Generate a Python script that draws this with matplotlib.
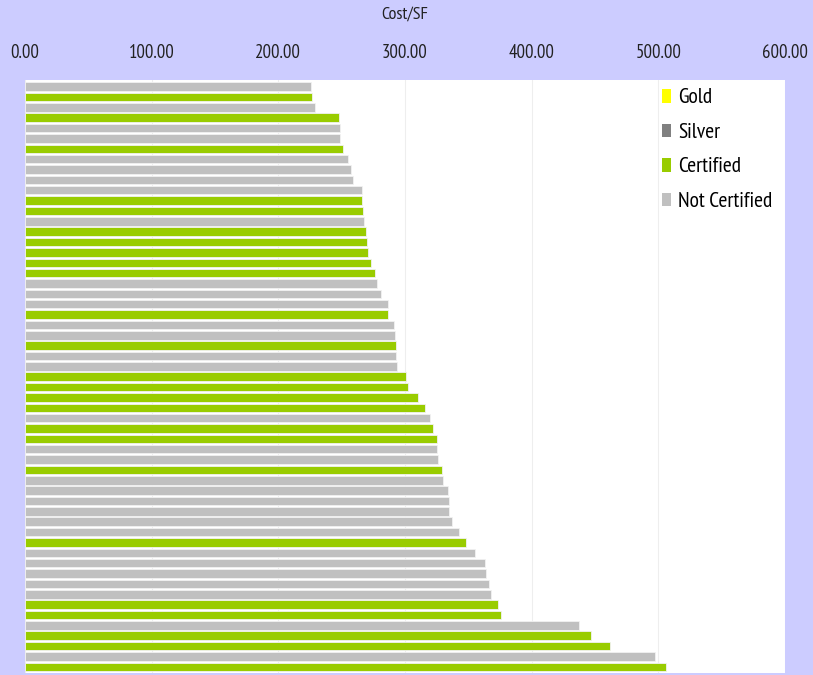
import matplotlib.pyplot as plt
from matplotlib.patches import Patch
import numpy as np

# Cost per square foot, one bar per project (top to bottom)
cost_sf = [225.5, 226.3, 229.0, 247.6, 248.4, 248.7, 250.8, 255.3, 257.1, 259.2,
           265.8, 266.1, 266.8, 267.6, 269.0, 269.7, 270.5, 273.2, 276.6, 278.2,
           281.1, 286.6, 286.9, 291.3, 292.1, 292.6, 293.1, 293.4, 300.5, 302.4,
           310.3, 316.1, 319.5, 322.1, 325.3, 325.5, 325.8, 328.9, 329.7, 333.9,
           334.7, 334.7, 337.4, 342.6, 348.4, 355.2, 363.0, 364.3, 366.3, 367.6,
           373.7, 375.4, 437.0, 446.8, 462.0, 497.3, 506.4]

# C = Certified, N = Not Certified
status = list("NCNCNNCNNNNCCNC"
              "CCCCNNNCNNCNNCC"
              "CCNCCNNCNNNNNNC"
              "NNNNNCCNCCNC")

categories = ["Gold", "Silver", "Certified", "Not Certified"]
cat_colors = ["#FFFF00", "#808080", "#99CC00", "#C0C0C0"]
ticks = [0, 100, 200, 300, 400, 500, 600]

color_of = {"C": "#99CC00", "N": "#C0C0C0"}
bar_colors = [color_of[s] for s in status]

plt.rcParams['font.family'] = ['PT Sans Narrow', 'DejaVu Sans']

fig = plt.figure(figsize=(8.13, 6.75), dpi=100, facecolor="#CCCCFF")
ax = fig.add_axes([25 / 813, 2 / 675, 760 / 813, 593 / 675])
ax.set_facecolor("white")

y = np.arange(len(cost_sf))
ax.barh(y, cost_sf, height=0.82, color=bar_colors, edgecolor="#F2F2F2", linewidth=0.6, zorder=2)

ax.set_xlim(0, 600)
ax.set_ylim(len(cost_sf) - 0.4, -0.64)
ax.set_xticks(ticks)
ax.set_xticklabels([f"{t:.2f}" for t in ticks], fontsize=13.5, color="#222222")
ax.xaxis.tick_top()
ax.tick_params(axis="x", length=0, pad=13)
ax.set_yticks([])
ax.grid(axis="x", color="#EEEEEE", linewidth=0.8, zorder=0)
for s in ax.spines.values():
    s.set_visible(False)

fig.text(405 / 813, 1 - 15 / 675, "Cost/SF", ha="center", va="center", fontsize=13, color="#222222")

handles = [Patch(facecolor=c, edgecolor="none") for c in cat_colors]
ax.legend(handles, categories, loc="upper left", bbox_to_anchor=(0.833, 0.993), frameon=False,
          fontsize=15.5, handlelength=0.42, handleheight=0.6, handletextpad=0.3,
          labelspacing=0.72, borderaxespad=0.0, borderpad=0.2)

fig.savefig("out.png", dpi=100, facecolor=fig.get_facecolor())
